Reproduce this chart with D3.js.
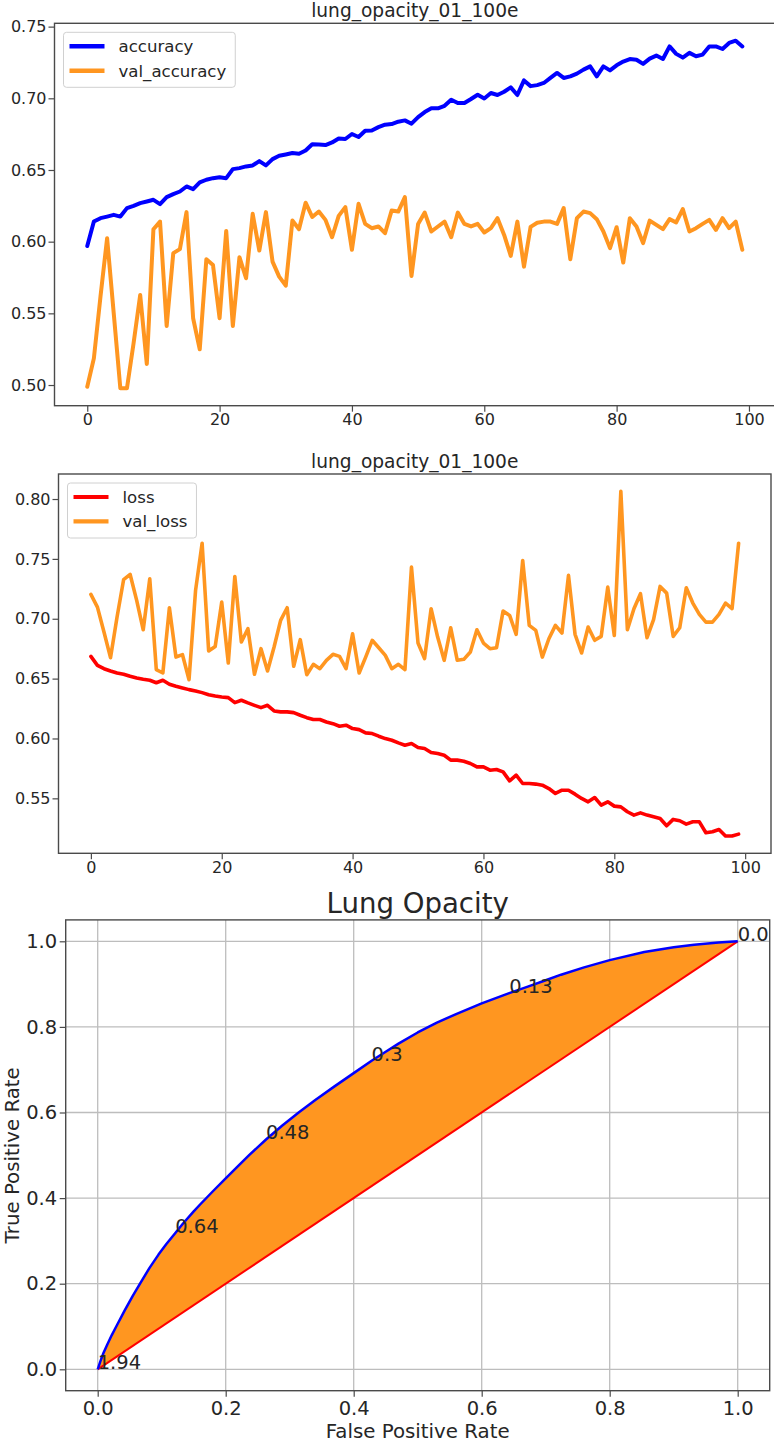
<!DOCTYPE html>
<html>
<head>
<meta charset="utf-8">
<script src="https://cdn.jsdelivr.net/npm/d3@7"></script>
<style>
  html, body { margin: 0; padding: 0; background: #fff; }
  svg { display: block; font-family: "DejaVu Sans", sans-serif; }
</style>
</head>
<body>
<svg id="fig" width="774" height="1445"></svg>
<script>
// ---- training history (one value per epoch) ----
const accuracy = [
  0.597, 0.614, 0.6164, 0.6175, 0.6187, 0.6175, 0.6234, 0.625, 0.6269, 0.628,
  0.6292, 0.6262, 0.6311, 0.6332, 0.635, 0.6385, 0.6366, 0.6413, 0.6432, 0.6443,
  0.645, 0.6443, 0.6506, 0.6513, 0.6525, 0.6532, 0.6562, 0.6532, 0.6576, 0.6599,
  0.6608, 0.6618, 0.6613, 0.6636, 0.668, 0.6678, 0.6674, 0.6692, 0.672, 0.6716,
  0.6751, 0.673, 0.6774, 0.6776, 0.6799, 0.6816, 0.682, 0.6837, 0.6846, 0.6823,
  0.6869, 0.6904, 0.693, 0.693, 0.6948, 0.699, 0.6967, 0.6967, 0.6995, 0.7025,
  0.6999, 0.7037, 0.7023, 0.7046, 0.7076, 0.7023, 0.7125, 0.7085, 0.7092, 0.7107,
  0.7142, 0.7177, 0.7142, 0.7153, 0.7172, 0.72, 0.7223, 0.7153, 0.7223, 0.7195,
  0.723, 0.7256, 0.7274, 0.7269, 0.724, 0.7277, 0.7298, 0.7274, 0.7362, 0.731,
  0.7284, 0.7317, 0.7293, 0.7305, 0.7362, 0.7362, 0.7344, 0.7386, 0.7402, 0.7362
];
const valAccuracy = [
  0.4988, 0.5186, 0.5617, 0.6024, 0.5501, 0.4977, 0.4977, 0.5291, 0.5628, 0.5147,
  0.6087, 0.614, 0.5412, 0.592, 0.5948, 0.6206, 0.5466, 0.5249, 0.5878, 0.5838,
  0.5466, 0.6075, 0.5412, 0.5892, 0.5745, 0.6194, 0.5938, 0.6206, 0.5861, 0.5756,
  0.5693, 0.6147, 0.6087, 0.6272, 0.6172, 0.621, 0.6152, 0.6031, 0.618, 0.6241,
  0.5943, 0.6264, 0.6124, 0.6094, 0.6106, 0.6059, 0.6217, 0.621, 0.6311, 0.5761,
  0.6124, 0.6203, 0.6071, 0.6106, 0.614, 0.6031, 0.6203, 0.6124, 0.6106, 0.6124,
  0.6064, 0.6094, 0.6164, 0.6047, 0.5901, 0.614, 0.5826, 0.6103, 0.6132, 0.614,
  0.614, 0.6124, 0.6234, 0.5878, 0.6164, 0.621, 0.6199, 0.6157, 0.6071, 0.5955,
  0.6101, 0.5854, 0.6164, 0.6106, 0.599, 0.6147, 0.6117, 0.6087, 0.6157, 0.6134,
  0.6227, 0.6071, 0.6094, 0.6124, 0.6152, 0.6082, 0.6164, 0.6094, 0.614, 0.5943
];
const loss = [
  0.6686, 0.6611, 0.6583, 0.6564, 0.6547, 0.6536, 0.6519, 0.6505, 0.6494, 0.6486,
  0.6466, 0.6486, 0.6453, 0.6436, 0.6422, 0.6408, 0.6397, 0.6383, 0.6366, 0.6355,
  0.6347, 0.6341, 0.6299, 0.6319, 0.6297, 0.6277, 0.6258, 0.6277, 0.623, 0.6222,
  0.6222, 0.6216, 0.6194, 0.6174, 0.6158, 0.6158, 0.6138, 0.6124, 0.6102, 0.6111,
  0.6083, 0.6074, 0.6047, 0.6041, 0.6019, 0.5999, 0.5985, 0.5963, 0.5944, 0.5958,
  0.5924, 0.5916, 0.5883, 0.5874, 0.586, 0.5819, 0.5819, 0.581, 0.5791, 0.5763,
  0.5763, 0.5735, 0.5741, 0.5721, 0.5646, 0.5694, 0.5624, 0.5624, 0.5619, 0.561,
  0.5582, 0.5541, 0.5568, 0.5568, 0.5535, 0.5499, 0.5471, 0.5507, 0.5443, 0.5471,
  0.5435, 0.5429, 0.5388, 0.536, 0.5379, 0.536, 0.5346, 0.5332, 0.5271, 0.5324,
  0.5313, 0.5285, 0.5304, 0.5304, 0.5213, 0.5221, 0.524, 0.5185, 0.5185, 0.5201
];
const valLoss = [
  0.7203, 0.7097, 0.6889, 0.6675, 0.7014, 0.7326, 0.737, 0.7153, 0.6908, 0.7334,
  0.6575, 0.6547, 0.7092, 0.668, 0.67, 0.6491, 0.7237, 0.7631, 0.6731, 0.6769,
  0.7139, 0.663, 0.7353, 0.6806, 0.6917, 0.6536, 0.675, 0.6564, 0.6764, 0.6986,
  0.7092, 0.6603, 0.6825, 0.6532, 0.6619, 0.6583, 0.6653, 0.6703, 0.6686, 0.6583,
  0.6875, 0.6547, 0.668, 0.682, 0.6758, 0.6694, 0.6583, 0.6619, 0.6575, 0.7431,
  0.6797, 0.6667, 0.7084, 0.6847, 0.6653, 0.6925, 0.6653, 0.6661, 0.6722, 0.6908,
  0.6797, 0.675, 0.6758, 0.7064, 0.7028, 0.687, 0.7487, 0.6945, 0.6903, 0.668,
  0.6833, 0.6945, 0.6881, 0.7362, 0.687, 0.6714, 0.6931, 0.682, 0.6853, 0.7264,
  0.6861, 0.8065, 0.6908, 0.7084, 0.7209, 0.6842, 0.6992, 0.727, 0.7214, 0.6853,
  0.6925, 0.7259, 0.7131, 0.7036, 0.6972, 0.6972, 0.7036, 0.7131, 0.7084, 0.7631
];

// ---- ROC curve ----
const rocFpr = [
  0.000, 0.004, 0.009, 0.015, 0.022, 0.030, 0.042, 0.055, 0.068, 0.081,
  0.095, 0.107, 0.121, 0.133, 0.150, 0.160, 0.180, 0.200, 0.220, 0.237,
  0.263, 0.288, 0.315, 0.340, 0.370, 0.400, 0.428, 0.450, 0.470, 0.500,
  0.530, 0.560, 0.600, 0.643, 0.672, 0.700, 0.724, 0.760, 0.800, 0.854,
  0.900, 0.932, 0.970, 1.000
];
const rocTpr = [
  0.000, 0.018, 0.038, 0.058, 0.080, 0.103, 0.137, 0.172, 0.205, 0.237,
  0.268, 0.292, 0.318, 0.340, 0.369, 0.385, 0.416, 0.446, 0.476, 0.501,
  0.537, 0.569, 0.601, 0.629, 0.661, 0.692, 0.721, 0.742, 0.761, 0.787,
  0.810, 0.830, 0.855, 0.879, 0.894, 0.909, 0.922, 0.939, 0.956, 0.975,
  0.986, 0.992, 0.997, 1.000
];
const thresholdLabels = ["1.94", "0.64", "0.48", "0.3", "0.13", "0.0"];
const thresholdFpr = [0.0, 0.121, 0.263, 0.428, 0.643, 1.0];
const thresholdTpr = [0.0, 0.318, 0.537, 0.721, 0.879, 1.0];

// ---- tick values ----
const epochTicks = [0, 20, 40, 60, 80, 100];
const accuracyTicks = [0.50, 0.55, 0.60, 0.65, 0.70, 0.75];
const lossTicks = [0.55, 0.60, 0.65, 0.70, 0.75, 0.80];
const rateTicks = [0.0, 0.2, 0.4, 0.6, 0.8, 1.0];

const BLUE = "#0000ff";
const RED = "#ff0000";
const ORANGE = "#ff9620";
const FRAME = "#4a4a4a";
const INK = "#262626";

const fig = d3.select("#fig");

// pad a [min,max] range by 5% on each side
function padded(lo, hi) {
  const m = (hi - lo) * 0.05;
  return [lo - m, hi + m];
}

function styleAxis(g, fontSize) {
  g.select(".domain").remove();
  g.selectAll(".tick line").attr("stroke", FRAME).attr("stroke-width", 1.2);
  g.selectAll(".tick text").attr("fill", INK).attr("font-size", fontSize)
    .attr("font-family", "DejaVu Sans");
}

function historyPanel(o) {
  const g = fig.append("g");
  const nEpochs = o.series[0].values.length;
  const x = d3.scaleLinear()
    .domain(padded(0, nEpochs - 1))
    .range([o.left, o.right]);
  const all = o.series.flatMap(s => s.values);
  const y = d3.scaleLinear()
    .domain(padded(d3.min(all), d3.max(all)))
    .range([o.bottom, o.top]);

  const clipId = "clip-" + o.id;
  g.append("clipPath").attr("id", clipId)
    .append("rect").attr("x", o.left).attr("y", o.top)
    .attr("width", o.right - o.left).attr("height", o.bottom - o.top);

  const line = d3.line().x((d, i) => x(i)).y(d => y(d));
  const plot = g.append("g").attr("clip-path", `url(#${clipId})`);
  o.series.forEach(s => {
    plot.append("path").datum(s.values)
      .attr("d", line)
      .attr("fill", "none")
      .attr("stroke", s.color)
      .attr("stroke-width", o.lineWidth)
      .attr("stroke-linejoin", "round")
      .attr("stroke-linecap", "round");
  });

  // axes
  g.append("g").attr("transform", `translate(0,${o.bottom})`)
    .call(d3.axisBottom(x).tickValues(epochTicks).tickFormat(d3.format("d"))
      .tickSize(6).tickPadding(2))
    .call(ax => styleAxis(ax, 16));
  g.append("g").attr("transform", `translate(${o.left},0)`)
    .call(d3.axisLeft(y).tickValues(o.yTicks).tickFormat(d3.format(".2f"))
      .tickSize(6).tickPadding(2))
    .call(ax => styleAxis(ax, 16));

  // frame
  g.append("rect")
    .attr("x", o.left).attr("y", o.top)
    .attr("width", o.right - o.left).attr("height", o.bottom - o.top)
    .attr("fill", "none").attr("stroke", FRAME).attr("stroke-width", 1.4);

  // title
  g.append("text")
    .attr("x", (o.left + o.right) / 2).attr("y", o.top - 6.3)
    .attr("text-anchor", "middle").attr("fill", INK)
    .attr("font-size", 18.6).text(o.title);

  // legend
  const bx = o.left + 9, by = o.top + 9;
  const lg = g.append("g");
  const box = lg.append("rect")
    .attr("x", bx).attr("y", by).attr("rx", 3).attr("ry", 3)
    .attr("height", 55)
    .attr("fill", "#fff").attr("fill-opacity", 0.85)
    .attr("stroke", "#d0d0d0").attr("stroke-width", 1);
  let maxW = 0;
  o.series.forEach((s, i) => {
    const cy = by + 14 + i * 24.4;
    lg.append("line")
      .attr("x1", bx + 6).attr("x2", bx + 41)
      .attr("y1", cy).attr("y2", cy)
      .attr("stroke", s.color).attr("stroke-width", o.lineWidth + 0.5);
    const t = lg.append("text")
      .attr("x", bx + 55).attr("y", cy + 6)
      .attr("fill", INK).attr("font-size", 16.6).text(s.label);
    maxW = Math.max(maxW, t.node().getComputedTextLength());
  });
  box.attr("width", 55 + maxW + 9);
}

historyPanel({
  id: "acc", left: 54.5, right: 775.1, top: 23.3, bottom: 405.7,
  title: "lung_opacity_01_100e", yTicks: accuracyTicks, lineWidth: 4,
  series: [
    { values: accuracy, color: BLUE, label: "accuracy" },
    { values: valAccuracy, color: ORANGE, label: "val_accuracy" }
  ]
});

historyPanel({
  id: "loss", left: 58.5, right: 771, top: 474, bottom: 853.3,
  title: "lung_opacity_01_100e", yTicks: lossTicks, lineWidth: 3.6,
  series: [
    { values: loss, color: RED, label: "loss" },
    { values: valLoss, color: ORANGE, label: "val_loss" }
  ]
});

// ---- ROC panel ----
(function rocPanel() {
  const L = 65.7, R = 769.7, T = 919.9, B = 1390.7;
  const g = fig.append("g");
  const x = d3.scaleLinear().domain(padded(0, 1)).range([L, R]);
  const y = d3.scaleLinear().domain(padded(0, 1)).range([B, T]);

  // grid
  const grid = g.append("g").attr("stroke", "#bdbdbd").attr("stroke-width", 1.3);
  rateTicks.forEach(v => {
    grid.append("line").attr("x1", x(v)).attr("x2", x(v)).attr("y1", T).attr("y2", B);
    grid.append("line").attr("y1", y(v)).attr("y2", y(v)).attr("x1", L).attr("x2", R);
  });

  const pts = rocFpr.map((f, i) => [f, rocTpr[i]]);

  // area between the ROC curve and the chance diagonal
  const area = d3.area()
    .x(d => x(d[0]))
    .y0(d => y(d[0]))
    .y1(d => y(d[1]));
  g.append("path").datum(pts).attr("d", area).attr("fill", ORANGE);

  // chance diagonal
  g.append("path").datum([[0, 0], [1, 1]])
    .attr("d", d3.line().x(d => x(d[0])).y(d => y(d[1])))
    .attr("fill", "none").attr("stroke", RED).attr("stroke-width", 2);

  // ROC curve
  g.append("path").datum(pts)
    .attr("d", d3.line().x(d => x(d[0])).y(d => y(d[1])))
    .attr("fill", "none").attr("stroke", BLUE).attr("stroke-width", 2.5)
    .attr("stroke-linejoin", "round");

  // threshold annotations
  thresholdLabels.forEach((lab, i) => {
    g.append("text")
      .attr("x", x(thresholdFpr[i])).attr("y", y(thresholdTpr[i]))
      .attr("fill", INK).attr("font-size", 19.5).text(lab);
  });

  g.append("g").attr("transform", `translate(0,${B})`)
    .call(d3.axisBottom(x).tickValues(rateTicks).tickFormat(d3.format(".1f"))
      .tickSize(6).tickPadding(4))
    .call(ax => styleAxis(ax, 19.5));
  g.append("g").attr("transform", `translate(${L},0)`)
    .call(d3.axisLeft(y).tickValues(rateTicks).tickFormat(d3.format(".1f"))
      .tickSize(6).tickPadding(2.5))
    .call(ax => styleAxis(ax, 19.5));

  g.append("rect")
    .attr("x", L).attr("y", T).attr("width", R - L).attr("height", B - T)
    .attr("fill", "none").attr("stroke", FRAME).attr("stroke-width", 1.4);

  g.append("text")
    .attr("x", (L + R) / 2).attr("y", T - 7)
    .attr("text-anchor", "middle").attr("fill", INK)
    .attr("font-size", 27.6).text("Lung Opacity");

  g.append("text")
    .attr("x", (L + R) / 2).attr("y", 1438)
    .attr("text-anchor", "middle").attr("fill", INK)
    .attr("font-size", 19.8).text("False Positive Rate");

  g.append("text")
    .attr("transform", `translate(18.5,${(T + B) / 2}) rotate(-90)`)
    .attr("text-anchor", "middle").attr("fill", INK)
    .attr("font-size", 19.8).text("True Positive Rate");
})();
</script>
</body>
</html>
